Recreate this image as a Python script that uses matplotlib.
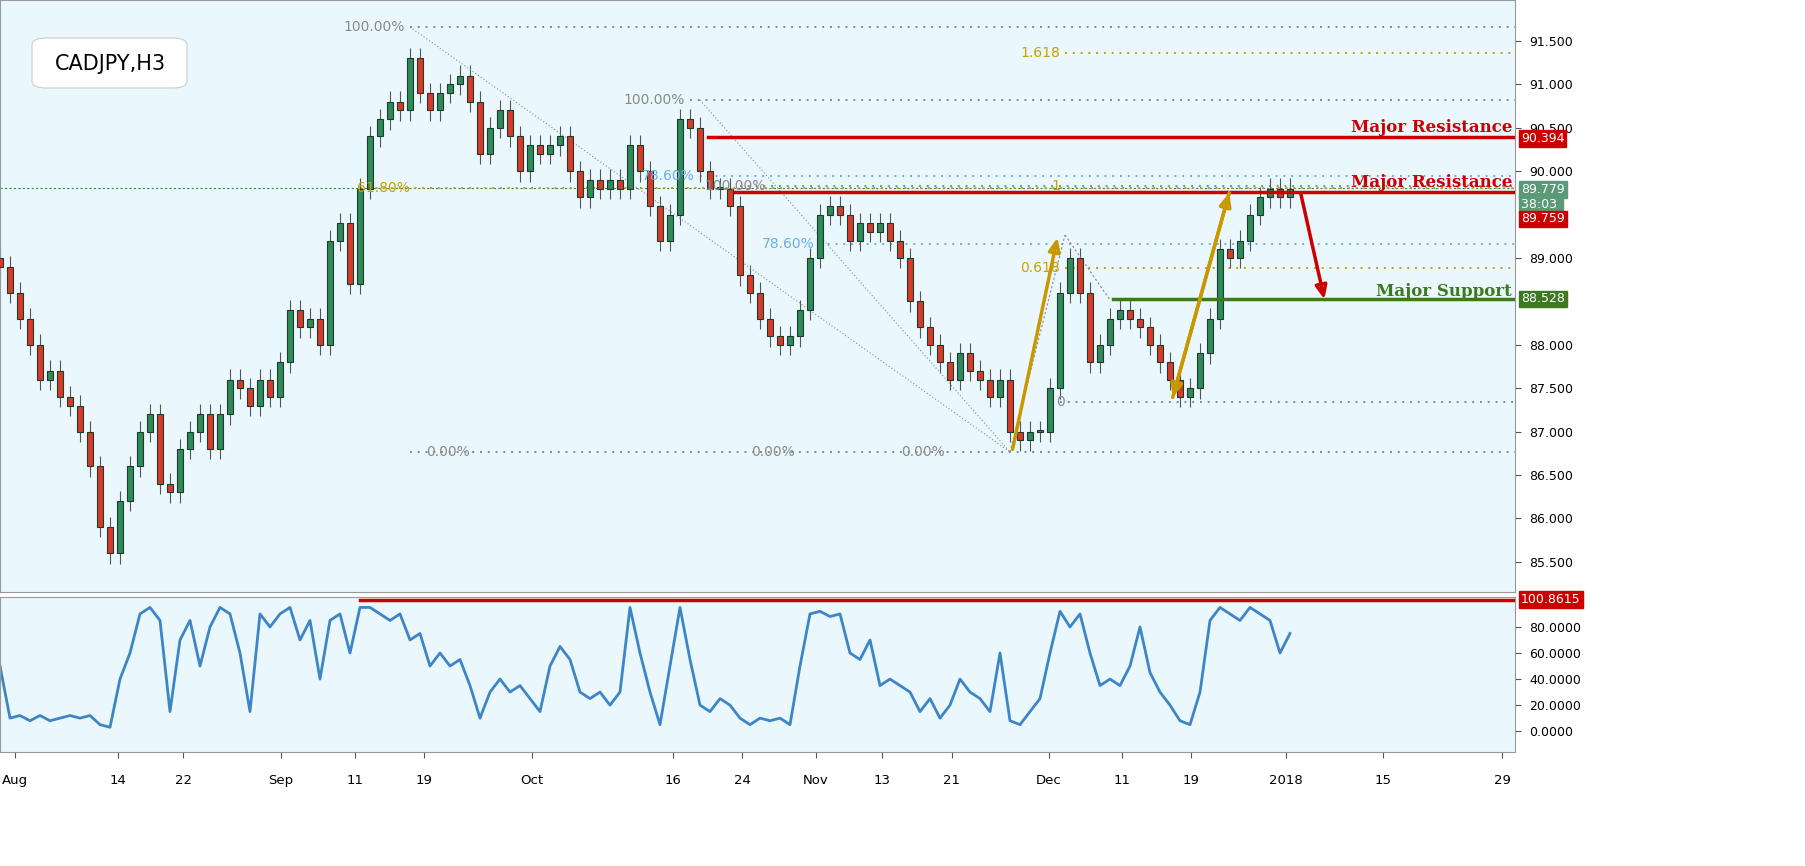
import matplotlib
matplotlib.use("Agg")
import matplotlib.pyplot as plt
from matplotlib.patches import FancyBboxPatch
import numpy as np

# closes sampled bar by bar
closes = [88.9, 88.6, 88.3, 88.0, 87.6, 87.7, 87.4, 87.3, 87.0, 86.6, 85.9, 85.6, 86.2, 86.6, 87.0,
          87.2, 86.4, 86.3, 86.8, 87.0, 87.2, 86.8, 87.2, 87.6, 87.5, 87.3, 87.6, 87.4, 87.8, 88.4,
          88.2, 88.3, 88.0, 89.2, 89.4, 88.7, 89.8, 90.4, 90.6, 90.8, 90.7, 91.3, 90.9, 90.7, 90.9,
          91.0, 91.1, 90.8, 90.2, 90.5, 90.7, 90.4, 90.0, 90.3, 90.2, 90.3, 90.4, 90.0, 89.7, 89.9,
          89.8, 89.9, 89.8, 90.3, 90.0, 89.6, 89.2, 89.5, 90.6, 90.5, 90.0, 89.8, 89.8, 89.6, 88.8,
          88.6, 88.3, 88.1, 88.0, 88.1, 88.4, 89.0, 89.5, 89.6, 89.5, 89.2, 89.4, 89.3, 89.4, 89.2,
          89.0, 88.5, 88.2, 88.0, 87.8, 87.6, 87.9, 87.7, 87.6, 87.4, 87.6, 87.0, 86.9, 87.0, 87.0,
          87.5, 88.6, 89.0, 88.6, 87.8, 88.0, 88.3, 88.4, 88.3, 88.2, 88.0, 87.8, 87.6, 87.4, 87.5,
          87.9, 88.3, 89.1, 89.0, 89.2, 89.5, 89.7, 89.8, 89.7, 89.8]
osc = [50, 10, 12, 8, 12, 8, 10, 12, 10, 12, 5, 3, 40, 60, 90, 95, 85, 15, 70, 85, 50, 80, 95, 90,
       60, 15, 90, 80, 90, 95, 70, 85, 40, 85, 90, 60, 95, 95, 90, 85, 90, 70, 75, 50, 60, 50, 55,
       35, 10, 30, 40, 30, 35, 25, 15, 50, 65, 55, 30, 25, 30, 20, 30, 95, 60, 30, 5, 50, 95, 55,
       20, 15, 25, 20, 10, 5, 10, 8, 10, 5, 50, 90, 92, 88, 90, 60, 55, 70, 35, 40, 35, 30, 15, 25,
       10, 20, 40, 30, 25, 15, 60, 8, 5, 15, 25, 60, 92, 80, 90, 60, 35, 40, 35, 50, 80, 45, 30, 20,
       8, 5, 30, 85, 95, 90, 85, 95, 90, 85, 60, 75]
tick_pos = [1.5, 11.8, 18.3, 28.1, 35.5, 42.4, 53.2, 67.3, 74.2, 81.6, 88.2, 95.2, 104.9, 112.2, 119.1, 128.6, 138.3, 150.2]
tick_lab = ["Aug", "14", "22", "Sep", "11", "19", "Oct", "16", "24", "Nov", "13", "21", "Dec", "11", "19", "2018", "15", "29"]
price_ticks = [85.5, 86.0, 86.5, 87.0, 87.5, 88.0, 89.0, 90.0, 90.5, 91.0, 91.5]
osc_ticks = [0, 20, 40, 60, 80]

BG = "#eaf8fd"
W, H = 1805, 866
fig = plt.figure(figsize=(W / 100, H / 100), dpi=100, facecolor="white")
ax = fig.add_axes([0, 1 - 592 / H, 1515 / W, 592 / H], facecolor=BG)
ax2 = fig.add_axes([0, 1 - 752 / H, 1515 / W, 155 / H], facecolor=BG)

def px(x):
    return x / 10.0

def py(y):
    return 91.5 - (y - 41) / 86.8

# candles
for i, c in enumerate(closes):
    o = closes[i - 1] if i > 0 else c + 0.1
    up = c >= o
    col = "#2f8a5a" if up else "#d83a2a"
    lo, hi = min(o, c), max(o, c)
    ax.vlines(i, lo - 0.12, hi + 0.12, color="#555555", lw=0.8, zorder=2)
    ax.bar(i, max(hi - lo, 0.02), bottom=lo, width=0.55, color=col, edgecolor="#1e3a2a", lw=0.8, zorder=3)

xmax = 151.5
# horizontal fib/level lines: (price y pixel, start x pixel, colour)
dot = dict(ls=(0, (1, 3)), lw=1.4)
for y, x0, c in [(27, 410, "#8a8a8a"), (53, 1065, "#c9a000"), (100, 690, "#8a8a8a"),
                 (176, 700, "#6aaee8"), (244, 820, "#6aaee8"), (268, 1065, "#c9a000"),
                 (186, 740, "#8a8a8a"), (402, 1060, "#8a8a8a"), (452, 410, "#8a8a8a")]:
    ax.plot([px(x0), xmax], [py(y)] * 2, color=c, **dot, zorder=1)
ax.plot([0, xmax], [py(188)] * 2, color="#2e8b57", ls=(0, (2, 2)), lw=0.8, zorder=1)
ax.plot([px(360), xmax], [py(188)] * 2, color="#c9a000", **dot, zorder=1)

ax.plot([px(708), xmax], [90.394] * 2, color="#cc0000", lw=2.5, zorder=4)
ax.plot([px(735), xmax], [89.759] * 2, color="#cc0000", lw=2.5, zorder=4)
ax.plot([px(1113), xmax], [88.528] * 2, color="#3d7a1e", lw=2.5, zorder=4)

# diagonal guides
ax.plot([px(410), px(1010)], [py(27), py(452)], color="#8a8a8a", ls=(0, (1, 2)), lw=0.8)
ax.plot([px(700), px(1010)], [py(100), py(452)], color="#8a8a8a", ls=(0, (1, 2)), lw=0.8)
ax.plot([px(1065), px(1110)], [py(235), py(300)], color="#8a8a8a", ls=(0, (2, 2)), lw=0.8)
ax.plot([px(1010), px(1065)], [py(452), py(235)], color="#8a8a8a", ls=(0, (2, 2)), lw=0.8)

# arrows
def arrow(x0, y0, x1, y1, c):
    ax.annotate("", xy=(px(x1), py(y1)), xytext=(px(x0), py(y0)),
                arrowprops=dict(arrowstyle="-|>,head_length=0.8,head_width=0.35", color=c, lw=2.5,
                                fill=False), zorder=6)
arrow(1012, 452, 1058, 235, "#c99700")
arrow(1230, 190, 1172, 400, "#c99700")
arrow(1172, 400, 1230, 190, "#c99700")
arrow(1300, 190, 1325, 302, "#cc0000")

# fib labels
lab = dict(fontsize=10, va="center")
ax.text(px(405), py(27), "100.00%", color="#8a8a8a", ha="right", **lab)
ax.text(px(685), py(100), "100.00%", color="#8a8a8a", ha="right", **lab)
ax.text(px(735), py(186), "100.00%", color="#8a8a8a", ha="center", **lab)
ax.text(px(410), py(188), "61.80%", color="#c9a000", ha="right", **lab)
ax.text(px(695), py(176), "78.60%", color="#6aaee8", ha="right", **lab)
ax.text(px(815), py(244), "78.60%", color="#6aaee8", ha="right", **lab)
ax.text(px(1060), py(53), "1.618", color="#c9a000", ha="right", **lab)
ax.text(px(1060), py(268), "0.618", color="#c9a000", ha="right", **lab)
ax.text(px(1060), py(186), "1", color="#c9a000", ha="right", **lab)
ax.text(px(1065), py(402), "0", color="#8a8a8a", ha="right", **lab)
for x in (470, 795, 945):
    ax.text(px(x), py(452), "0.00%", color="#8a8a8a", ha="right", **lab)

big = dict(ha="right", va="center", fontsize=12, fontweight="bold", family="DejaVu Serif")
ax.text(px(1512), py(127), "Major Resistance", color="#cc0000", **big)
ax.text(px(1512), py(183), "Major Resistance", color="#cc0000", **big)
ax.text(px(1512), py(291), "Major Support", color="#3d7a1e", **big)

ax.set_xlim(0, xmax)
ax.set_ylim(py(592), py(0))
ax.set_xticks([])
ax.yaxis.tick_right()
ax.set_yticks(price_ticks)
ax.set_yticklabels([f"{v:.3f}" for v in price_ticks], fontsize=9)
ax.tick_params(axis="y", length=4, color="#555555", pad=6)
for s in ax.spines.values():
    s.set_color("#999999")

# right-side price boxes
def pbox(a, y, txt, c):
    a.text(1.004, y, txt, transform=a.get_yaxis_transform(), color="white", fontsize=9, va="center",
           ha="left", bbox=dict(boxstyle="square,pad=0.15", fc=c, ec=c), clip_on=False, zorder=10)
pbox(ax, 90.38, "90.394", "#cc0000")
pbox(ax, 89.79, "89.779", "#5a9a78")
pbox(ax, 89.62, "38:03 ", "#5a9a78")
pbox(ax, 89.45, "89.759", "#cc0000")
pbox(ax, 88.528, "88.528", "#3d7a1e")

# title box
fig.patches.append(FancyBboxPatch((32 / W, 1 - 88 / H), 155 / W, 50 / H, boxstyle="round,pad=0,rounding_size=0.008",
                                  transform=fig.transFigure, fc="white", ec="#cccccc", lw=0.8, zorder=5))
fig.text(110 / W, 1 - 64 / H, "CADJPY,H3", fontsize=15, ha="center", va="center", zorder=6)

# oscillator
ax2.plot(range(len(osc)), osc, color="#3d85c6", lw=2)
ax2.plot([px(360), xmax], [100.8615] * 2, color="#cc0000", lw=2.5)
ax2.set_xlim(0, xmax)
ax2.set_ylim(-16, 103)
ax2.yaxis.tick_right()
ax2.set_yticks(osc_ticks)
ax2.set_yticklabels([f"{v:.4f}" for v in osc_ticks], fontsize=9)
pbox(ax2, 100.8615, "100.8615", "#cc0000")
ax2.set_xticks(tick_pos)
ax2.set_xticklabels(tick_lab, fontsize=9.5)
ax2.tick_params(axis="x", length=4, color="#555555", pad=12)
ax2.tick_params(axis="y", length=4, color="#555555", pad=6)
for s in ax2.spines.values():
    s.set_color("#999999")

fig.savefig("out.png", dpi=100, facecolor="white")
